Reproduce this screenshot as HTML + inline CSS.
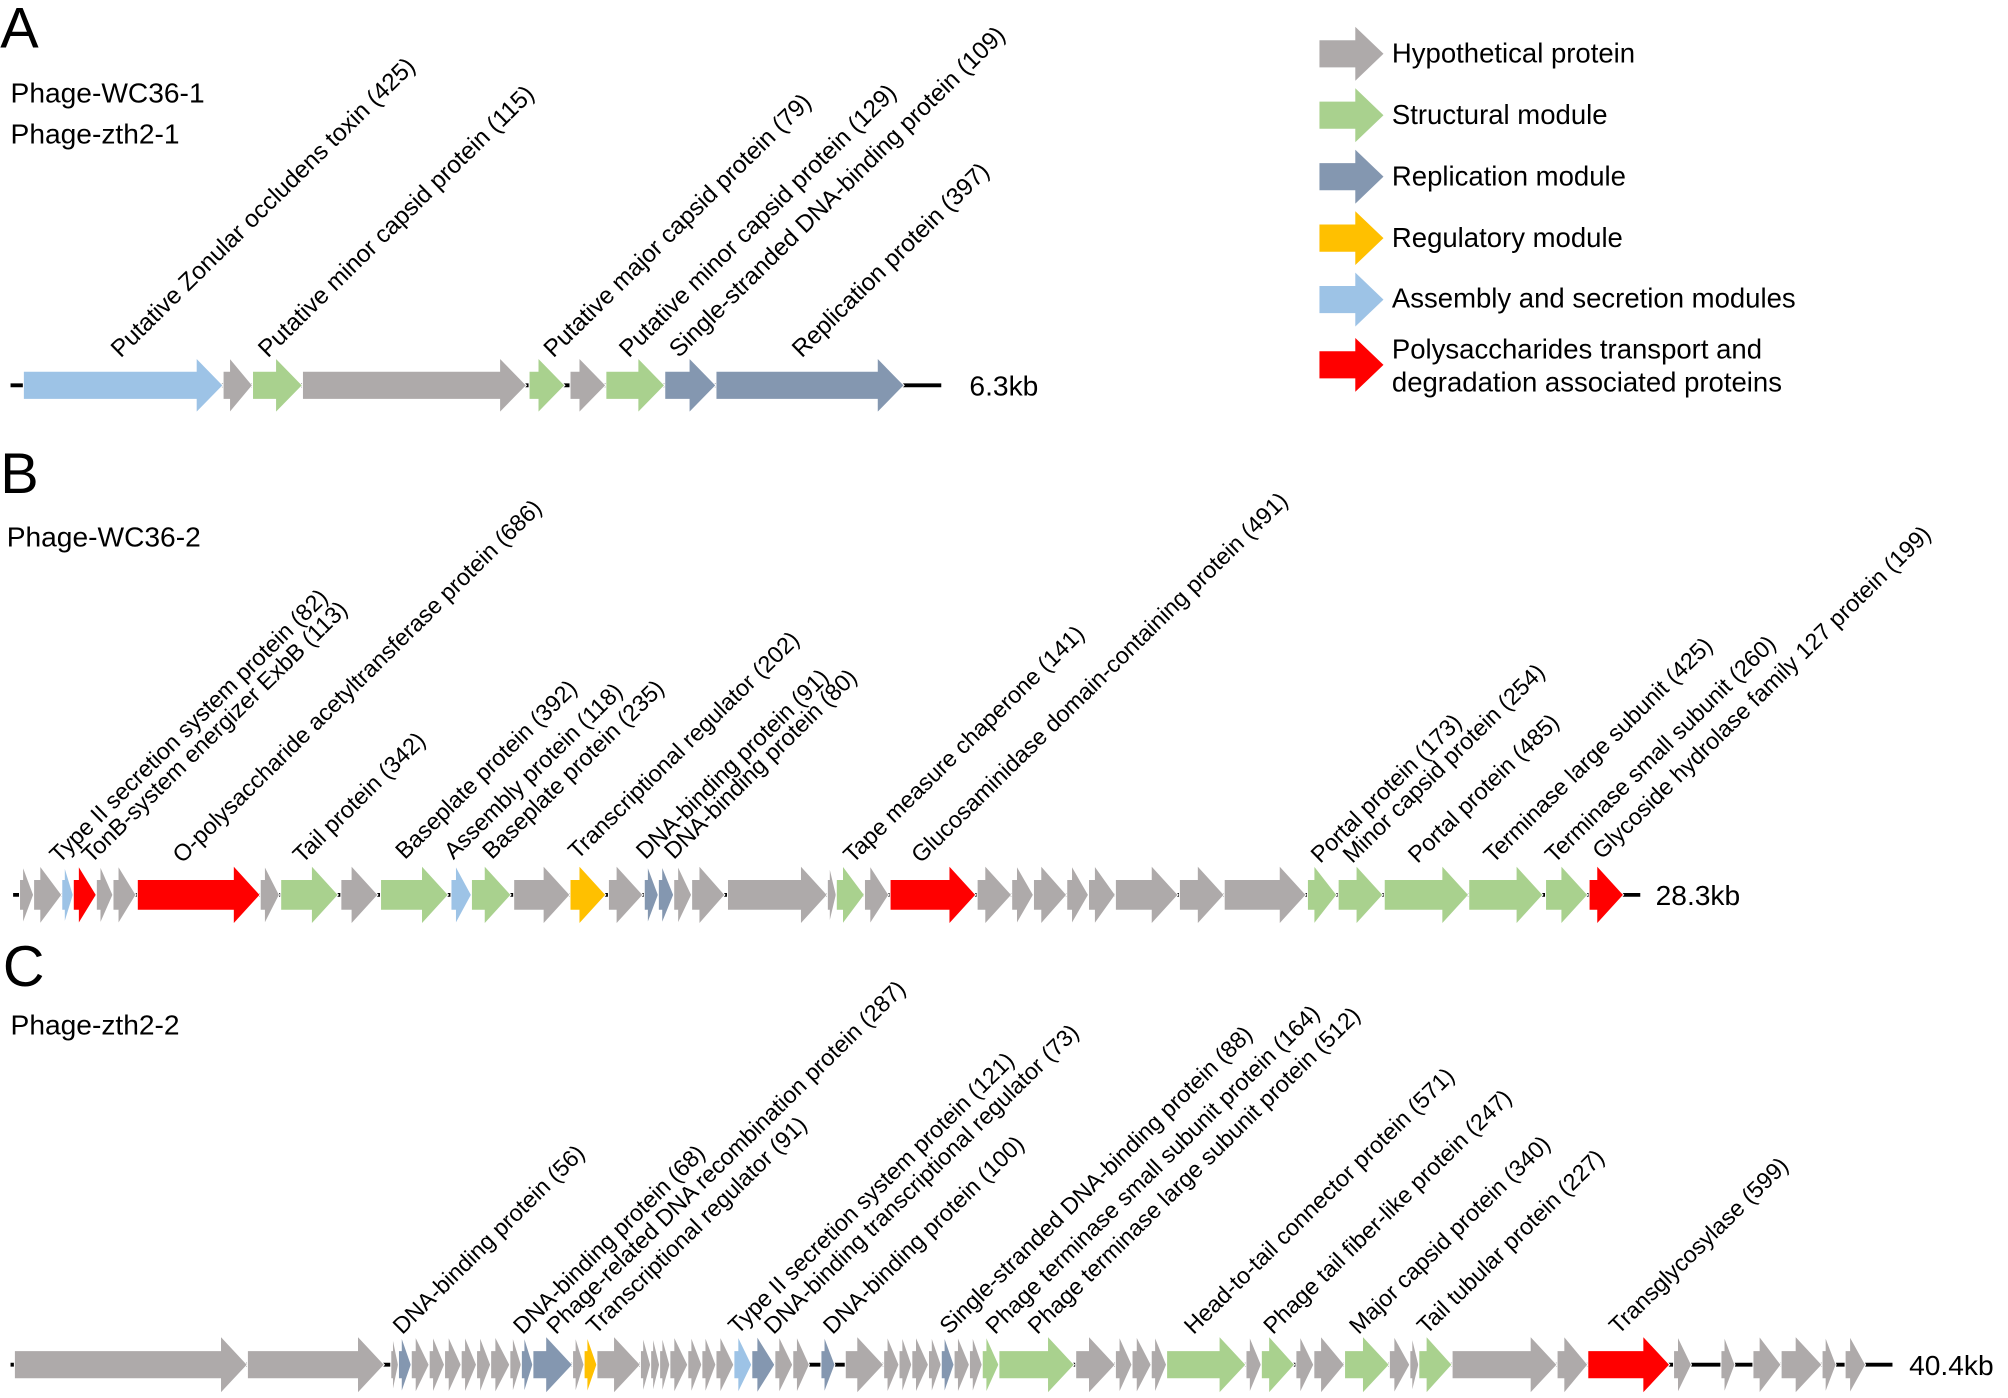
<!DOCTYPE html>
<html><head><meta charset="utf-8"><style>
html,body{margin:0;padding:0;background:#fff;}
svg{display:block;}
text{font-family:"Liberation Sans",Arial,sans-serif;fill:#000;}
</style></head><body>
<svg id="s" xmlns="http://www.w3.org/2000/svg" width="2008" height="1398" viewBox="0 0 1568 1092">
<rect width="1568" height="1092" fill="#fff"/>
<g id="g"></g>
<text x="0" y="37" font-size="45">A</text>
<text x="0" y="385" font-size="45">B</text>
<text x="2" y="770" font-size="45">C</text>
<text x="8" y="80" font-size="22">Phage-WC36-1</text>
<text x="8" y="112" font-size="22">Phage-zth2-1</text>
<text x="5" y="427" font-size="22">Phage-WC36-2</text>
<text x="8" y="808" font-size="22">Phage-zth2-2</text>
<text x="757" y="309" font-size="22">6.3kb</text>
<text x="1293" y="707" font-size="22">28.3kb</text>
<text x="1491" y="1074" font-size="22">40.4kb</text>
<g font-size="21.5">
<text x="1087" y="49">Hypothetical protein</text>
<text x="1087" y="97">Structural module</text>
<text x="1087" y="145">Replication module</text>
<text x="1087" y="193">Regulatory module</text>
<text x="1087" y="240">Assembly and secretion modules</text>
<text x="1087" y="280">Polysaccharides transport and</text>
<text x="1087" y="306">degradation associated proteins</text>
</g>
</svg>
<script>
var C={g:"#aeaaaa",n:"#a9d18e",s:"#8497b0",y:"#ffc000",b:"#9dc3e6",r:"#ff0000"};
var g=document.getElementById("g"),NS="http://www.w3.org/2000/svg";
function el(t,a){var e=document.createElementNS(NS,t);for(var k in a)e.setAttribute(k,a[k]);g.appendChild(e);return e;}
function arrow(x1,x2,cy,bh,hh,c,hl){var L=x2-x1;var h=hl||Math.min(21,L*0.78);var xb=x2-h;
el("path",{d:"M"+x1+","+(cy-bh)+"L"+xb+","+(cy-bh)+"L"+xb+","+(cy-hh)+"L"+x2+","+cy+"L"+xb+","+(cy+hh)+"L"+xb+","+(cy+bh)+"L"+x1+","+(cy+bh)+"Z",fill:C[c],stroke:"#fff","stroke-width":0.8});}
function track(y,x1,x2,genes,bh,hh){el("line",{x1:x1,x2:x2,y1:y,y2:y,stroke:"#000","stroke-width":3});
genes.forEach(function(q){arrow(q[0],q[1],y,bh,hh,q[2]);});}
function labels(arr,fs){arr.forEach(function(l){var t=el("text",{x:l[0],y:l[1],"font-size":fs,transform:"rotate(-44.5 "+l[0]+" "+l[1]+")"});t.textContent=l[2];});}
// A
track(301,8,735,[[18,174,"b"],[174,197,"g"],[197,236,"n"],[236,411,"g"],[413,441,"n"],[445,473,"g"],[473,519,"n"],[519,559,"s"],[559,706,"s"]],11,21.5);
labels([[94,280,"Putative Zonular occludens toxin (425)"],[209,280,"Putative minor capsid protein (115)"],[432,280,"Putative major capsid protein (79)"],[491,280,"Putative minor capsid protein (129)"],[530,280,"Single-stranded DNA-binding protein (109)"],[626,280,"Replication protein (397)"]],19);
// B
track(699,10,1281,[[15,26,"g"],[26,48,"g"],[48,57,"b"],[57,75,"r"],[75,88,"g"],[88,106,"g"],[107,203,"r"],[203,218,"g"],[219,264,"n"],[266,295,"g"],[297,350,"n"],[352,368,"b"],[368,399,"n"],[401,445,"g"],[445,473,"y"],[475,502,"g"],[503,514,"s"],[514,526,"s"],[526,540,"g"],[540,566,"g"],[568,646,"g"],[646,653,"g"],[653,675,"n"],[675,694,"g"],[695,762,"r"],[763,790,"g"],[790,807,"g"],[807,833,"g"],[833,850,"g"],[850,871,"g"],[871,920,"g"],[921,956,"g"],[956,1020,"g"],[1021,1044,"n"],[1045,1080,"n"],[1081,1147,"n"],[1147,1205,"n"],[1207,1240,"n"],[1241,1268,"r"]],12,23);
labels([[46,675,"Type II secretion system protein (82)"],[71,675,"TonB-system energizer ExbB (113)"],[142,675,"O-polysaccharide acetyltransferase protein (686)"],[236,675,"Tail protein (342)"],[316,672,"Baseplate protein (392)"],[354,672,"Assembly protein  (118)"],[384,672,"Baseplate protein (235)"],[451,672,"Transcriptional regulator (202)"],[504,672,"DNA-binding protein (91)"],[526,672,"DNA-binding protein (80)"],[666,675,"Tape measure chaperone (141)"],[719,675,"Glucosaminidase domain-containing protein (491)"],[1031,675,"Portal protein (173)"],[1056,675,"Minor capsid protein (254)"],[1107,675,"Portal protein (485)"],[1166,675,"Terminase large subunit (425)"],[1214,675,"Terminase small subunit (260)"],[1251,672,"Glycoside hydrolase family 127 protein (199)"]],18.3);
// C
track(1066,8,1478,[[11,193,"g"],[193,300,"g"],[305,311,"g"],[311,321,"s"],[321,335,"g"],[335,347,"g"],[347,360,"g"],[360,372,"g"],[372,383,"g"],[383,398,"g"],[398,407,"g"],[407,416,"s"],[416,447,"s"],[447,456,"g"],[456,466,"y"],[466,500,"g"],[500,508,"g"],[508,515,"g"],[515,523,"g"],[523,537,"g"],[537,548,"g"],[548,559,"g"],[559,573,"g"],[573,587,"b"],[587,605,"s"],[605,619,"g"],[619,632,"g"],[641,652,"s"],[660,690,"g"],[690,702,"g"],[702,712,"g"],[712,725,"g"],[725,735,"g"],[735,745,"s"],[745,757,"g"],[757,767,"g"],[767,780,"n"],[780,839,"n"],[840,871,"g"],[871,884,"g"],[884,899,"g"],[899,911,"g"],[911,973,"n"],[973,985,"g"],[985,1011,"n"],[1012,1026,"g"],[1026,1050,"g"],[1050,1085,"n"],[1085,1101,"g"],[1101,1108,"g"],[1108,1134,"n"],[1134,1216,"g"],[1216,1240,"g"],[1240,1304,"r"],[1307,1321,"g"],[1344,1355,"g"],[1369,1391,"g"],[1391,1423,"g"],[1423,1434,"g"],[1441,1457,"g"]],11,22.5);
labels([[314,1043,"DNA-binding protein (56)"],[408,1043,"DNA-binding protein (68)"],[434,1043,"Phage-related DNA recombination protein (287)"],[465,1043,"Transcriptional regulator (91)"],[576,1043,"Type II secretion system protein (121)"],[604,1043,"DNA-binding transcriptional regulator (73)"],[650,1043,"DNA-binding protein (100)"],[741,1043,"Single-stranded DNA-binding protein (88)"],[777,1043,"Phage terminase small subunit protein (164)"],[810,1043,"Phage terminase large subunit protein (512)"],[932,1043,"Head-to-tail connector protein (571)"],[994,1043,"Phage tail fiber-like protein (247)"],[1061,1043,"Major capsid protein (340)"],[1114,1043,"Tail tubular protein (227)"],[1264,1043,"Transglycosylase (599)"]],18.2);
// legend
[["g",42],["n",90],["s",138],["y",186],["b",234],["r",285]].forEach(function(l){arrow(1030,1081,l[1],11,22,l[0],23);});
</script>
</body></html>
